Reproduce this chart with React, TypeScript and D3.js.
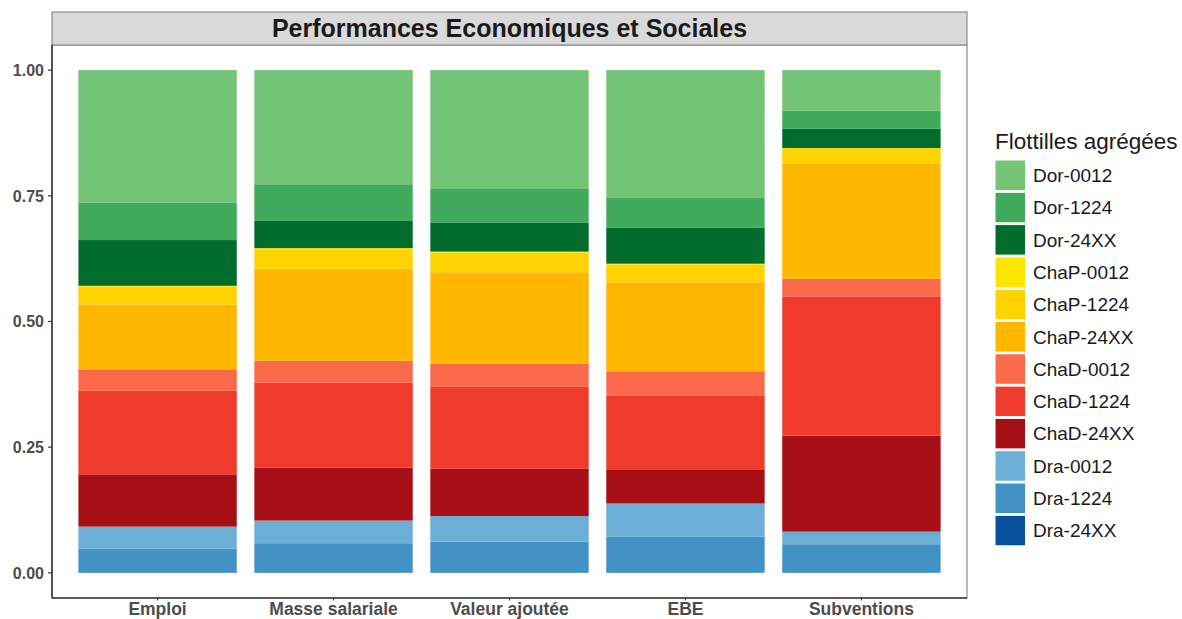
import React from "react";
import * as d3 from "d3";

const categories = ["Emploi", "Masse salariale", "Valeur ajoutée", "EBE", "Subventions"];

// Series shares per category (order: Emploi, Masse salariale, Valeur ajoutée, EBE, Subventions)
const dor0012 = [0.263, 0.227, 0.235, 0.253, 0.081];
const dor1224 = [0.075, 0.073, 0.068, 0.060, 0.035];
const dor24xx = [0.091, 0.054, 0.058, 0.072, 0.039];
const chap0012 = [0.002, 0.002, 0.002, 0.002, 0.002];
const chap1224 = [0.035, 0.039, 0.039, 0.035, 0.029];
const chap24xx = [0.129, 0.183, 0.182, 0.177, 0.229];
const chad0012 = [0.043, 0.044, 0.045, 0.049, 0.035];
const chad1224 = [0.166, 0.169, 0.164, 0.146, 0.277];
const chad24xx = [0.104, 0.105, 0.094, 0.068, 0.191];
const dra0012 = [0.044, 0.045, 0.051, 0.066, 0.025];
const dra1224 = [0.048, 0.059, 0.062, 0.072, 0.057];
const dra24xx = [0.0, 0.0, 0.0, 0.0, 0.0];

const seriesNames = [
  "Dor-0012", "Dor-1224", "Dor-24XX",
  "ChaP-0012", "ChaP-1224", "ChaP-24XX",
  "ChaD-0012", "ChaD-1224", "ChaD-24XX",
  "Dra-0012", "Dra-1224", "Dra-24XX",
];
const seriesValues = [
  dor0012, dor1224, dor24xx,
  chap0012, chap1224, chap24xx,
  chad0012, chad1224, chad24xx,
  dra0012, dra1224, dra24xx,
];
const seriesColors = [
  "#74c476", "#41ab5d", "#006d2c",
  "#ffe600", "#ffd300", "#ffb700",
  "#fb6a4a", "#ef3b2c", "#a50f15",
  "#6baed6", "#4292c6", "#08519c",
];

const yTicks = [0, 0.25, 0.5, 0.75, 1];

const title = "Performances Economiques et Sociales";
const legendTitle = "Flottilles agrégées";

export default function App() {
  const W = 1182, H = 619;
  const pL = 52, pR = 967, pT = 45, pB = 598;
  const stripTop = 12;

  const x = d3.scaleBand<string>().domain(categories).range([pL, pR]).paddingInner(0.1).paddingOuter(0.15);
  const y = d3.scaleLinear().domain([-0.05, 1.05]).range([pB, pT]);

  const table = categories.map((c, i) => {
    const row: any = { cat: c };
    seriesNames.forEach((s, j) => (row[s] = seriesValues[j][i]));
    return row;
  });
  const stackKeys = [...seriesNames].reverse();
  const stacked = d3.stack<any>().keys(stackKeys)(table);
  const colorOf = d3.scaleOrdinal<string, string>().domain(seriesNames).range(seriesColors);

  const font = "'Liberation Sans', Arial, sans-serif";
  const legX = 995, legY0 = 160, legStep = 32.3, keySize = 30.5;

  return (
    <svg width={W} height={H} style={{ position: "absolute", left: 0, top: 0, display: "block" }} fontFamily={font}>
      <rect x={0} y={0} width={W} height={H} fill="#ffffff" />
      {/* panel */}
      <rect x={pL} y={pT} width={pR - pL} height={pB - pT} fill="#ffffff" stroke="#8c8c8c" strokeWidth={1.2} />
      {/* strip */}
      <rect x={pL} y={stripTop} width={pR - pL} height={pT - stripTop} fill="#d9d9d9" stroke="#8c8c8c" strokeWidth={1.2} />
      <text x={(pL + pR) / 2} y={37} textAnchor="middle" fontSize={25} fontWeight="bold" fill="#1a1a1a">{title}</text>

      {/* bars */}
      {stacked.map((layer) => (
        <g key={layer.key} fill={colorOf(layer.key)}>
          {layer.map((d, i) => {
            const h = y(d[0]) - y(d[1]);
            if (h <= 0) return null;
            return <rect key={i} x={x(categories[i])} y={y(d[1])} width={x.bandwidth()} height={h} />;
          })}
        </g>
      ))}

      {/* axes lines */}
      <line x1={pL} x2={pL} y1={pT} y2={pB} stroke="#3a3a3a" strokeWidth={1.6} />
      <line x1={pL} x2={pR} y1={pB} y2={pB} stroke="#3a3a3a" strokeWidth={1.6} />

      {/* y ticks */}
      {yTicks.map((t) => (
        <g key={t}>
          <line x1={pL - 4} x2={pL} y1={y(t)} y2={y(t)} stroke="#3a3a3a" strokeWidth={1.2} />
          <text x={pL - 8} y={y(t)} dy="0.36em" textAnchor="end" fontSize={16} fontWeight="bold" fill="#4d4d4d">
            {d3.format(".2f")(t)}
          </text>
        </g>
      ))}

      {/* x ticks */}
      {categories.map((c) => {
        const cx = (x(c) as number) + x.bandwidth() / 2;
        return (
          <g key={c}>
            <line x1={cx} x2={cx} y1={pB} y2={pB + 2.5} stroke="#3a3a3a" strokeWidth={1.2} />
            <text x={cx} y={614.5} textAnchor="middle" fontSize={17.5} fontWeight="bold" fill="#4d4d4d">{c}</text>
          </g>
        );
      })}

      {/* legend */}
      <text x={legX} y={149} fontSize={22.5} fill="#1a1a1a">{legendTitle}</text>
      {seriesNames.map((s, j) => {
        const ky = legY0 + j * legStep;
        return (
          <g key={s}>
            <rect x={legX} y={ky} width={keySize} height={keySize} fill={colorOf(s)} stroke="#ffffff" strokeWidth={1} />
            <text x={1033} y={ky + keySize / 2} dy="0.36em" fontSize={19} fill="#1a1a1a">{s}</text>
          </g>
        );
      })}
    </svg>
  );
}
